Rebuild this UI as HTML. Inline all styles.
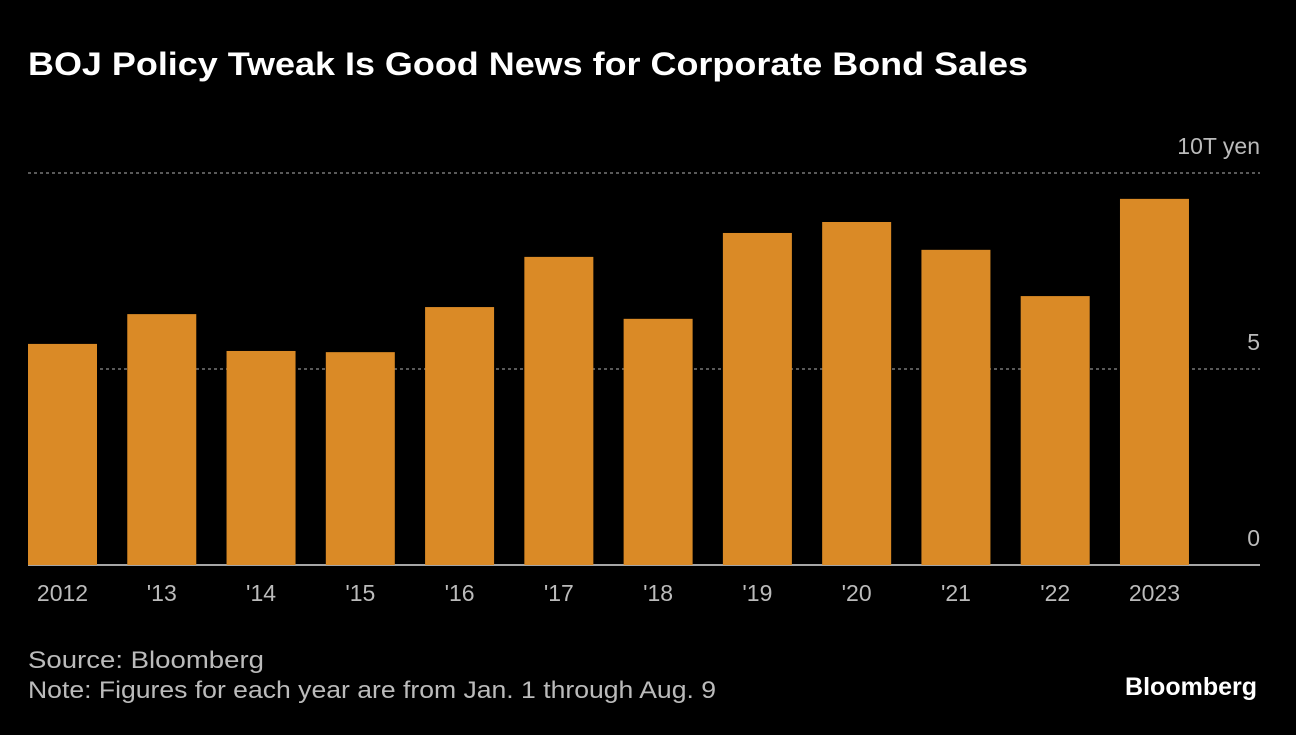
<!DOCTYPE html>
<html><head><meta charset="utf-8"><style>
body{margin:0;background:#000;width:1296px;height:730px;overflow:hidden;font-family:"Liberation Sans",sans-serif;}
</style></head><body>
<svg width="1296" height="730">
<text x="28" y="75" fill="#fff" font-size="32" font-weight="bold" textLength="1000" lengthAdjust="spacingAndGlyphs">BOJ Policy Tweak Is Good News for Corporate Bond Sales</text>
<g id="grid"></g>
<g id="bars"></g>
<g id="xlabels"></g>
<text x="28" y="668" fill="#bbb" font-size="24" textLength="236" lengthAdjust="spacingAndGlyphs">Source: Bloomberg</text>
<text x="28" y="698" fill="#bbb" font-size="24" textLength="688" lengthAdjust="spacingAndGlyphs">Note: Figures for each year are from Jan. 1 through Aug. 9</text>
<text x="1257" y="695" fill="#fff" font-size="25" font-weight="bold" text-anchor="end">Bloomberg</text>
</svg>
<script>
const categories=["2012","'13","'14","'15","'16","'17","'18","'19","'20","'21","'22","2023"];
const values=[5.64,6.40,5.46,5.43,6.58,7.86,6.28,8.47,8.75,8.04,6.86,9.34];
const ticks=[0,5,10];
const tickLabels=["0","5","10T yen"];
const ns="http://www.w3.org/2000/svg";
const y0=565,pxPer=39.2,x0=28,pitch=99.27,bw=69,right=1260;
const Y=v=>y0-v*pxPer;
function mk(t,a,p){const e=document.createElementNS(ns,t);for(const k in a)e.setAttribute(k,a[k]);p.appendChild(e);return e;}
const g=document.getElementById('grid'),b=document.getElementById('bars'),xl=document.getElementById('xlabels');
ticks.forEach((t,i)=>{
  if(t>0){const l=mk('line',{x1:x0,x2:right,y1:Y(t),y2:Y(t),stroke:'#777','stroke-dasharray':'3,3','stroke-width':1.5},g);
  
  }
  const tx=mk('text',{x:right,y:Y(t)-19,fill:'#bbb','font-size':23,'text-anchor':'end'},g);
  tx.textContent=tickLabels[i];
  
  
});
values.forEach((v,i)=>{
  const x=x0+i*pitch;
  const r=mk('rect',{x:x,y:Y(v),width:bw,height:v*pxPer,fill:'#DA8A26'},b);
  
  
  const t=mk('text',{x:x+bw/2,y:601,fill:'#bbb','font-size':23,'text-anchor':'middle'},xl);
  t.textContent=categories[i];
  
  
});
const ax=mk('line',{x1:x0,x2:right,y1:y0,y2:y0,stroke:'#ddd','stroke-width':1.5},g);


</script>
</body></html>
